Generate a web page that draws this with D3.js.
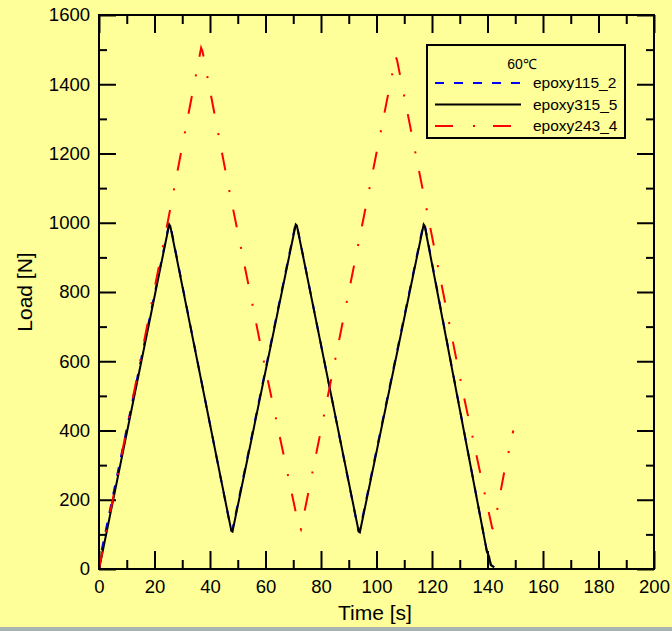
<!DOCTYPE html>
<html>
<head>
<meta charset="utf-8">
<script src="https://cdn.jsdelivr.net/npm/d3@7"></script>
<style>
  body { margin: 0; background: #ffff99; }
  svg { display: block; font-family: "Liberation Sans", Arial, sans-serif; }
</style>
</head>
<body>
<div id="chart"></div>
<script>

var width = 672;
var height = 631;

// plot box in pixels
var boxLeft = 99, boxRight = 654, boxTop = 15, boxBottom = 569;

// series: time [s] and load [N]
var blueTime = [0, 0.6, 25.2, 25.6, 47.6, 48.0, 70.8, 71.2, 93.5, 93.9, 116.9, 117.3, 139.8, 140.6, 141.2, 142.4];
var blueLoad = [0, 40, 995, 998, 112, 110, 996, 998, 110, 108, 996, 998, 50, 36, 12, 5];

var blackTime = [0, 0.8, 25.3, 25.7, 47.7, 48.1, 70.9, 71.3, 93.6, 94.0, 117.0, 117.4, 139.8, 140.6, 141.2, 142.4];
var blackLoad = [0, 30, 995, 990, 110, 108, 995, 992, 108, 106, 995, 990, 50, 35, 11, 5];

var redTime = [0, 25.0, 36.8, 37.3, 46.4, 54.9, 59.0, 72.2, 72.7, 85, 95, 106.9, 107.4, 131.1, 137.8, 141.7, 142.2, 146.1, 149.3];
var redLoad = [0, 1012, 1505, 1495, 1115, 780, 615, 115, 112, 600, 1000, 1480, 1470, 512, 262, 118, 115, 283, 400];

var seriesNames = ["epoxy115_2", "epoxy315_5", "epoxy243_4"];
var seriesColors = ["#0000ff", "#000000", "#ff0000"];
var seriesDash = ["9,10", null, "18,20,2,18"];

var xTicks = [0, 20, 40, 60, 80, 100, 120, 140, 160, 180, 200];
var xMinor = [10, 30, 50, 70, 90, 110, 130, 150, 170, 190];
var yTicks = [0, 200, 400, 600, 800, 1000, 1200, 1400, 1600];
var yMinor = [100, 300, 500, 700, 900, 1100, 1300, 1500];

var svg = d3.select("#chart")
  .append("svg")
  .attr("width", width)
  .attr("height", height);

svg.append("rect")
  .attr("width", width)
  .attr("height", height)
  .attr("fill", "#ffff99");

// thin strip at the bottom edge of the screenshot
svg.append("rect")
  .attr("x", 0).attr("y", 627)
  .attr("width", width).attr("height", 4)
  .attr("fill", "#a9b5b3");

var xScale = d3.scaleLinear().domain([0, 200]).range([boxLeft, boxRight]);
var yScale = d3.scaleLinear().domain([0, 1600]).range([boxBottom, boxTop]);

function styleAxis(g) {
  g.select(".domain").remove();
  g.selectAll("line").attr("stroke", "#000").attr("stroke-width", 2);
  g.selectAll("text").attr("fill", "#000").style("font-size", "18.5px");
}

// bottom axis with labels
svg.append("g")
  .attr("transform", "translate(0," + boxBottom + ")")
  .call(d3.axisBottom(xScale).tickValues(xTicks).tickSizeInner(-18).tickSizeOuter(0).tickPadding(11).tickFormat(d3.format("d")))
  .call(styleAxis);

svg.append("g")
  .attr("transform", "translate(0," + boxBottom + ")")
  .call(d3.axisBottom(xScale).tickValues(xMinor).tickSizeInner(-9).tickSizeOuter(0).tickFormat(""))
  .call(styleAxis);

// top axis, ticks only
svg.append("g")
  .attr("transform", "translate(0," + boxTop + ")")
  .call(d3.axisTop(xScale).tickValues(xTicks).tickSizeInner(-18).tickSizeOuter(0).tickFormat(""))
  .call(styleAxis);

svg.append("g")
  .attr("transform", "translate(0," + boxTop + ")")
  .call(d3.axisTop(xScale).tickValues(xMinor).tickSizeInner(-9).tickSizeOuter(0).tickFormat(""))
  .call(styleAxis);

// left axis with labels
svg.append("g")
  .attr("transform", "translate(" + boxLeft + ",0)")
  .call(d3.axisLeft(yScale).tickValues(yTicks).tickSizeInner(-17).tickSizeOuter(0).tickPadding(9).tickFormat(d3.format("d")))
  .call(styleAxis);

svg.append("g")
  .attr("transform", "translate(" + boxLeft + ",0)")
  .call(d3.axisLeft(yScale).tickValues(yMinor).tickSizeInner(-8).tickSizeOuter(0).tickFormat(""))
  .call(styleAxis);

// right axis, ticks only
svg.append("g")
  .attr("transform", "translate(" + boxRight + ",0)")
  .call(d3.axisRight(yScale).tickValues(yTicks).tickSizeInner(-17).tickSizeOuter(0).tickFormat(""))
  .call(styleAxis);

svg.append("g")
  .attr("transform", "translate(" + boxRight + ",0)")
  .call(d3.axisRight(yScale).tickValues(yMinor).tickSizeInner(-8).tickSizeOuter(0).tickFormat(""))
  .call(styleAxis);

// the data lines
var line = d3.line()
  .x(function(d) { return xScale(d[0]); })
  .y(function(d) { return yScale(d[1]); });

var seriesData = [
  d3.zip(blueTime, blueLoad),
  d3.zip(blackTime, blackLoad),
  d3.zip(redTime, redLoad)
];

var plot = svg.append("g");

plot.selectAll(".series")
  .data(seriesData)
  .enter().append("path")
  .attr("class", "series")
  .attr("d", line)
  .attr("fill", "none")
  .attr("stroke", function(d, i) { return seriesColors[i]; })
  .attr("stroke-width", 2)
  .attr("stroke-dasharray", function(d, i) { return seriesDash[i]; });

// frame
svg.append("rect")
  .attr("x", boxLeft)
  .attr("y", boxTop)
  .attr("width", boxRight - boxLeft)
  .attr("height", boxBottom - boxTop)
  .attr("fill", "none")
  .attr("stroke", "#000")
  .attr("stroke-width", 2);

// axis titles
svg.append("text")
  .attr("x", 375)
  .attr("y", 620)
  .attr("text-anchor", "middle")
  .style("font-size", "21px")
  .text("Time [s]");

svg.append("text")
  .attr("transform", "translate(32," + ((boxTop + boxBottom) / 2) + ") rotate(-90)")
  .attr("text-anchor", "middle")
  .style("font-size", "21px")
  .text("Load [N]");

// legend
var legend = svg.append("g");

legend.append("rect")
  .attr("x", 427)
  .attr("y", 45)
  .attr("width", 198)
  .attr("height", 93)
  .attr("fill", "#ffff99")
  .attr("stroke", "#000")
  .attr("stroke-width", 2);

legend.append("text")
  .attr("x", 522)
  .attr("y", 69)
  .attr("text-anchor", "middle")
  .style("font-size", "14px")
  .text("60℃");

var rows = legend.selectAll(".legendRow")
  .data(seriesNames)
  .enter().append("g")
  .attr("class", "legendRow")
  .attr("transform", function(d, i) { return "translate(0," + (83 + i * 21.5) + ")"; });

rows.append("line")
  .attr("x1", 435)
  .attr("x2", 521)
  .attr("stroke", function(d, i) { return seriesColors[i]; })
  .attr("stroke-width", 2)
  .attr("stroke-dasharray", function(d, i) { return seriesDash[i]; });

rows.append("text")
  .attr("x", 533)
  .attr("y", 5)
  .style("font-size", "15.5px")
  .text(function(d) { return d; });

</script>
</body>
</html>
